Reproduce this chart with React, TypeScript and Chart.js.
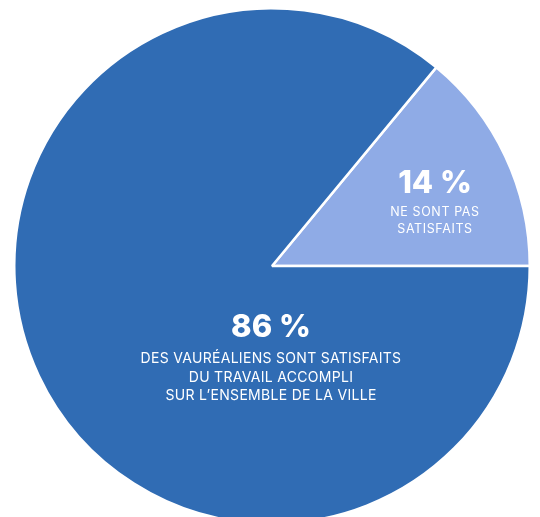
import React, { useEffect, useRef } from "react";
import { Chart, registerables } from "chart.js";

Chart.register(...registerables);

const categories = ["Ne sont pas satisfaits", "Satisfaits"];
const values = [14, 86];
const colors = ["#8FABE6", "#306CB4"];
const percentLabels = ["14 %", "86 %"];
const descLines = [
  ["NE SONT PAS", "SATISFAITS"],
  ["DES VAURÉALIENS SONT SATISFAITS", "DU TRAVAIL ACCOMPLI", "SUR L\u2019ENSEMBLE DE LA VILLE"],
];

const SIZE = 518;
const CX = 272;
const CY = 266;

const labelPlugin = {
  id: "pieLabels",
  afterDraw(chart: any) {
    const ctx = chart.ctx;
    const arc = chart.getDatasetMeta(0).data[0];
    const cx = arc.x;
    const cy = arc.y;
    const layouts = [
      { dx: 163, pct: -73.3, first: -50, step: 17.3, pctSize: 31, txtSize: 12.5, ls: "0.6px" },
      { dx: -1, pct: 70.7, first: 97.3, step: 18.3, pctSize: 31, txtSize: 14, ls: "0.3px" },
    ];
    ctx.save();
    ctx.fillStyle = "#ffffff";
    ctx.textAlign = "center";
    ctx.textBaseline = "alphabetic";
    layouts.forEach((l, i) => {
      ctx.font = `800 ${l.pctSize}px Inter, "Noto Sans", sans-serif`;
      (ctx as any).letterSpacing = "0px";
      ctx.fillText(percentLabels[i], cx + l.dx, cy + l.pct);
      ctx.font = `400 ${l.txtSize}px Inter, "Noto Sans", sans-serif`;
      (ctx as any).letterSpacing = l.ls;
      descLines[i].forEach((line, j) => {
        ctx.fillText(line, cx + l.dx, cy + l.first + j * l.step);
      });
    });
    ctx.restore();
  },
};

export default function App() {
  const ref = useRef<HTMLCanvasElement>(null);
  useEffect(() => {
    if (!ref.current) return;
    const chart = new Chart(ref.current, {
      type: "pie",
      data: {
        labels: categories,
        datasets: [
          {
            data: values,
            backgroundColor: colors,
            borderColor: "#ffffff",
            borderWidth: 2.5,
          },
        ],
      },
      options: {
        responsive: false,
        animation: false,
        rotation: 90 - (values[0] / 100) * 360,
        layout: { padding: 0 },
        plugins: {
          legend: { display: false },
          tooltip: { enabled: false },
        },
      },
      plugins: [labelPlugin],
    });
    return () => chart.destroy();
  }, []);
  return (
    <div
      style={{
        position: "fixed",
        left: 0,
        top: 0,
        width: 540,
        height: 517,
        overflow: "hidden",
        background: "#ffffff",
      }}
    >
      <canvas
        ref={ref}
        width={SIZE}
        height={SIZE}
        style={{
          position: "absolute",
          left: CX - SIZE / 2,
          top: CY - SIZE / 2,
          width: SIZE,
          height: SIZE,
        }}
      />
    </div>
  );
}
